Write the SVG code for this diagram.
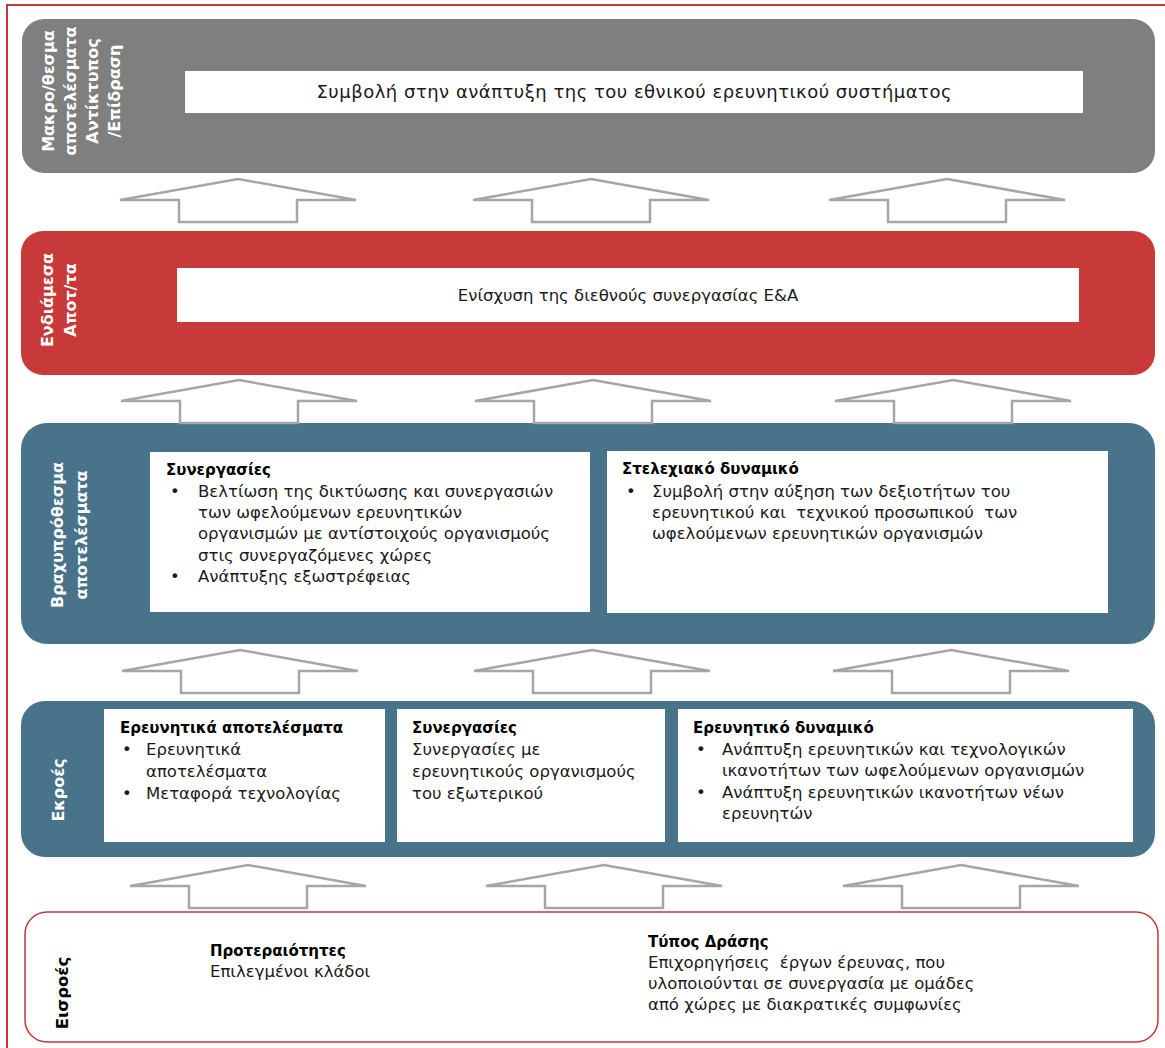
<svg xmlns="http://www.w3.org/2000/svg" xmlns:xlink="http://www.w3.org/1999/xlink" width="1165" height="1048" viewBox="0 0 1165 1048">
<style>
text{font-family:"DejaVu Sans","Noto Sans",sans-serif;white-space:pre;}
.t{font-size:16.5px;fill:#1a1a1a;}
.b{font-size:15px;font-weight:bold;fill:#000;}
.v{font-size:16px;font-weight:bold;fill:#fff;text-anchor:middle;}
.vk{font-size:16.5px;font-weight:bold;fill:#000;text-anchor:middle;}
.w{fill:#fff;}
.arr{fill:#fff;stroke:#a6a6a6;stroke-width:2.5;stroke-linejoin:miter;}
</style>
<defs>
<polygon id="arrow" class="arr" points="0,0 118,21 59,21 59,43 -59,43 -59,21 -118,21"/>
</defs>
<rect width="1165" height="1048" fill="#fff"/>
<path d="M7,1048 V5 H1165" fill="none" stroke="#c8363a" stroke-width="2"/>

<g id="macro">
<rect x="22" y="19" width="1133" height="154" rx="22" fill="#7f7f7f"/>
<rect class="w" x="185" y="71" width="898" height="42"/>
<text class="t" x="634" y="98" text-anchor="middle" style="font-size:18px" textLength="635">Συμβολή στην ανάπτυξη της του εθνικού ερευνητικού συστήματος</text>
<text class="v" transform="translate(0,91) rotate(-90)"><tspan x="0" y="54">Μακρο/θεσμα</tspan><tspan x="0" y="76">αποτελέσματα</tspan><tspan x="0" y="98">Αντίκτυπος</tspan><tspan x="0" y="120">/Επίδραση</tspan></text>
</g>

<g id="intermediate">
<rect x="21" y="231" width="1134" height="144" rx="22" fill="#c83a3a"/>
<rect class="w" x="177" y="268" width="902" height="54"/>
<text class="t" x="628" y="301" text-anchor="middle" style="font-size:16.5px">Ενίσχυση της διεθνούς συνεργασίας Ε&amp;A</text>
<text class="v" transform="translate(0,300) rotate(-90)"><tspan x="0" y="53">Ενδιάμεσα</tspan><tspan x="0" y="76">Αποτ/τα</tspan></text>
</g>

<g id="shortterm">
<rect x="21" y="423" width="1134" height="221" rx="26" fill="#48738a"/>
<text class="v" transform="translate(0,535) rotate(-90)"><tspan x="0" y="63">Βραχυπρόθεσμα</tspan><tspan x="0" y="87">αποτελέσματα</tspan></text>
<g id="st-synergasies">
<rect class="w" x="150" y="452" width="440" height="160"/>
<text class="b" x="166" y="475">Συνεργασίες</text>
<text class="t"><tspan x="170" y="497">•</tspan><tspan x="198" y="497">Βελτίωση της δικτύωσης και συνεργασιών</tspan><tspan x="198" y="518">των ωφελούμενων ερευνητικών</tspan><tspan x="198" y="539">οργανισμών με αντίστοιχούς οργανισμούς</tspan><tspan x="198" y="561">στις συνεργαζόμενες χώρες</tspan><tspan x="170" y="582">•</tspan><tspan x="198" y="582">Ανάπτυξης εξωστρέφειας</tspan></text>
</g>
<g id="st-staff">
<rect class="w" x="607" y="451" width="501" height="162"/>
<text class="b" x="622" y="474">Στελεχιακό δυναμικό</text>
<text class="t"><tspan x="626" y="497">•</tspan><tspan x="652" y="497">Συμβολή στην αύξηση των δεξιοτήτων του</tspan><tspan x="652" y="518">ερευνητικού και  τεχνικού προσωπικού  των</tspan><tspan x="652" y="539">ωφελούμενων ερευνητικών οργανισμών</tspan></text>
</g>
</g>

<g id="outputs">
<rect x="21" y="701" width="1134" height="156" rx="24" fill="#48738a"/>
<text class="v" transform="translate(0,790) rotate(-90)"><tspan x="0" y="64">Εκροές</tspan></text>
<g id="out-results">
<rect class="w" x="104" y="709" width="281" height="133"/>
<text class="b" x="120" y="733">Ερευνητικά αποτελέσματα</text>
<text class="t"><tspan x="122" y="755">•</tspan><tspan x="146" y="755">Ερευνητικά</tspan><tspan x="146" y="777">αποτελέσματα</tspan><tspan x="122" y="799">•</tspan><tspan x="146" y="799">Μεταφορά τεχνολογίας</tspan></text>
</g>
<g id="out-synergasies">
<rect class="w" x="397" y="709" width="268" height="133"/>
<text class="b" x="412" y="733">Συνεργασίες</text>
<text class="t"><tspan x="412" y="755">Συνεργασίες με</tspan><tspan x="412" y="777">ερευνητικούς οργανισμούς</tspan><tspan x="412" y="799">του εξωτερικού</tspan></text>
</g>
<g id="out-potential">
<rect class="w" x="678" y="709" width="455" height="133"/>
<text class="b" x="693" y="733">Ερευνητικό δυναμικό</text>
<text class="t"><tspan x="696" y="755">•</tspan><tspan x="722" y="755">Ανάπτυξη ερευνητικών και τεχνολογικών</tspan><tspan x="722" y="776">ικανοτήτων των ωφελούμενων οργανισμών</tspan><tspan x="696" y="798">•</tspan><tspan x="722" y="798">Ανάπτυξη ερευνητικών ικανοτήτων νέων</tspan><tspan x="722" y="819">ερευνητών</tspan></text>
</g>
</g>

<g id="inputs">
<rect x="25" y="912" width="1133" height="130" rx="22" fill="#fff" stroke="#c8363a" stroke-width="1.5"/>
<text class="vk" transform="translate(0,993) rotate(-90)"><tspan x="0" y="68">Εισροές</tspan></text>
<g id="in-priorities">
<text class="b" x="210" y="956">Προτεραιότητες</text>
<text class="t" x="210" y="977">Επιλεγμένοι κλάδοι</text>
</g>
<g id="in-action">
<text class="b" x="648" y="947">Τύπος Δράσης</text>
<text class="t"><tspan x="648" y="968">Επιχορηγήσεις  έργων έρευνας, που</tspan><tspan x="648" y="989">υλοποιούνται σε συνεργασία με ομάδες</tspan><tspan x="648" y="1010">από χώρες με διακρατικές συμφωνίες</tspan></text>
</g>
</g>

<g id="connectors">
<use xlink:href="#arrow" x="238" y="179"/>
<use xlink:href="#arrow" x="591" y="179"/>
<use xlink:href="#arrow" x="947" y="179"/>
<use xlink:href="#arrow" x="239" y="380"/>
<use xlink:href="#arrow" x="593" y="380"/>
<use xlink:href="#arrow" x="953" y="380"/>
<use xlink:href="#arrow" x="240" y="650"/>
<use xlink:href="#arrow" x="592" y="650"/>
<use xlink:href="#arrow" x="951" y="650"/>
<use xlink:href="#arrow" x="248" y="865"/>
<use xlink:href="#arrow" x="604" y="865"/>
<use xlink:href="#arrow" x="961" y="865"/>
</g>
</svg>
